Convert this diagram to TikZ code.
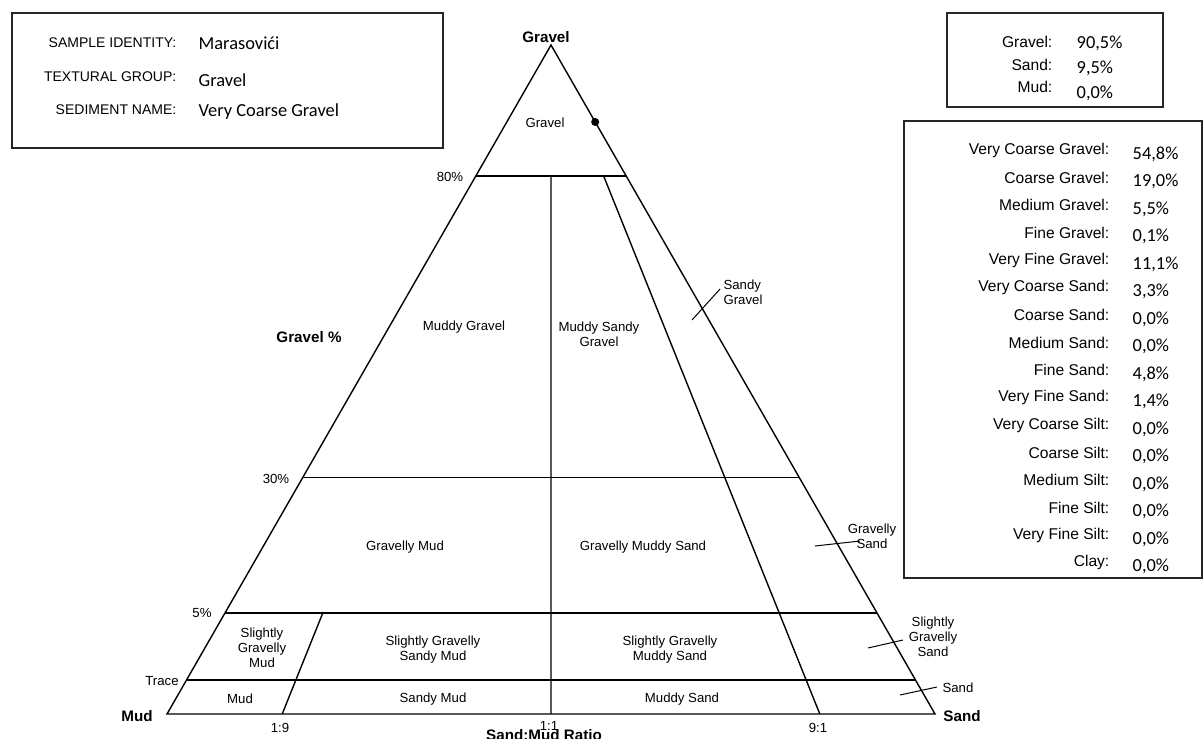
\documentclass[tikz,border=0pt]{standalone}
\usepackage{fontspec}
\setmainfont{Liberation Sans}
\newfontfamily\valfont{Carlito}
\usetikzlibrary{calc}

\tikzstyle{region}=[
    font=\fontsize{6.6}{7.5}\selectfont,
    align=center,
    inner sep=0pt
]
\tikzstyle{corner}=[
    font=\fontsize{7.6}{9}\selectfont\bfseries,
    inner sep=0pt
]
\tikzstyle{key}=[
    font=\fontsize{7.8}{9}\selectfont,
    anchor=east,
    inner sep=0pt
]
\tikzstyle{value}=[
    font=\fontsize{9.2}{10}\selectfont\valfont,
    anchor=west,
    inner sep=0pt
]
\tikzstyle{frame}=[
    line width=0.7pt,
    draw=black!85
]

\begin{document}
\begin{tikzpicture}[x=0.5pt,y=-0.5pt,line width=0.7pt]
	\useasboundingbox (0,0) rectangle (1203,738);
	% TRIANGLE CORNERS
	\coordinate (G) at (551,45);
	\coordinate (M) at (167,714);
	\coordinate (S) at (935,714);
	% ratio points on the base
	\coordinate (r19) at ($(M)!0.15!(S)$);
	\coordinate (r11) at ($(M)!0.5!(S)$);
	\coordinate (r91) at ($(M)!0.85!(S)$);
	% gravel levels on both sides
	\foreach \lvl/\t in {g80/0.804, g30/0.3535, g5/0.151, gtr/0.0508} {
		\coordinate (\lvl l) at ($(M)!\t!(G)$);
		\coordinate (\lvl r) at ($(S)!\t!(G)$);
	}
	\coordinate (r19t) at ($(r19)!0.151!(G)$);
	\coordinate (r11t) at ($(r11)!0.804!(G)$);
	\coordinate (r91t) at ($(r91)!0.804!(G)$);

	\draw (M) -- (G) -- (S) -- cycle;
	% Horizontal connections
	\draw (g80l) -- (g80r);
	\draw (g30l) -- (g30r);
	\draw (g5l) -- (g5r);
	\draw (gtrl) -- (gtrr);
	% Ratio lines
	\draw (r19) -- (r19t);
	\draw (r11) -- (r11t);
	\draw (r91) -- (r91t);

	% sample point
	\node (sample) [circle,fill,inner sep=0pt,minimum size=4pt] at ($(S)!0.885!(G)$) {};

	% CORNER LABELS
	\node (gravel) [corner] at (546,37) {Gravel};
	\node (mud) [corner] at (137,716) {Mud};
	\node (sand) [corner] at (962,716) {Sand};
	\node (gpct) [corner] at (309,337) {Gravel \%};
	\node (ratio) [corner] at (544,735) {Sand:Mud Ratio};

	% axis ticks
	\node (t80) [region] at (450,177) {80\%};
	\node (t30) [region] at (276,479) {30\%};
	\node (t5) [region] at (202,613) {5\%};
	\node (ttr) [region] at (162,681) {Trace};
	\node (t19) [region] at (280,728) {1:9};
	\node (t11) [region] at (549,726) {1:1};
	\node (t91) [region] at (818,728) {9:1};

	% REGION NAMES
	\node (n_g) [region] at (545,123) {Gravel};
	\node (n_mg) [region] at (464,327) {Muddy Gravel};
	\node (n_msg) [region] at (599,334) {Muddy Sandy\\Gravel};
	\node (n_gm) [region] at (405,547) {Gravelly Mud};
	\node (n_gms) [region] at (643,547) {Gravelly Muddy Sand};
	\node (n_sgm) [region] at (262,648) {Slightly\\Gravelly\\Mud};
	\node (n_sgsm) [region] at (433,650) {Slightly Gravelly\\Sandy Mud};
	\node (n_sgms) [region] at (670,650) {Slightly Gravelly\\Muddy Sand};
	\node (n_m) [region] at (240,699) {Mud};
	\node (n_sm) [region] at (433,699) {Sandy Mud};
	\node (n_ms) [region] at (682,699) {Muddy Sand};

	% outside names with leaders
	\node (n_sg) [region,align=left] at (743,292) {Sandy\\Gravel};
	\node (n_gs) [region] at (872,536) {Gravelly\\Sand};
	\node (n_sgs) [region] at (933,637) {Slightly\\Gravelly\\Sand};
	\node (n_s) [region] at (958,688) {Sand};
	\coordinate (l_sg) at (692,320);
	\coordinate (l_sg2) at (720,289);
	\coordinate (l_gs) at (815,546);
	\coordinate (l_gs2) at (860,541);
	\coordinate (l_sgs) at (868,648);
	\coordinate (l_sgs2) at (903,640);
	\coordinate (l_s) at (900,695);
	\coordinate (l_s2) at (937,687);
	\draw[line width=0.5pt] (l_sg) -- (l_sg2);
	\draw[line width=0.5pt] (l_gs) -- (l_gs2);
	\draw[line width=0.5pt] (l_sgs) -- (l_sgs2);
	\draw[line width=0.5pt] (l_s) -- (l_s2);

	% SAMPLE BOX
	\draw[frame] (12,13) rectangle (443,148);
	\node (k_id) [key,font=\fontsize{7}{8}\selectfont] at (177,43) {SAMPLE IDENTITY:};
	\node (k_tg) [key,font=\fontsize{7}{8}\selectfont] at (177,77) {TEXTURAL GROUP:};
	\node (k_sn) [key,font=\fontsize{7}{8}\selectfont] at (177,110) {SEDIMENT NAME:};
	\node (v_id) [value] at (198,43) {Marasovići};
	\node (v_tg) [value] at (198,80) {Gravel};
	\node (v_sn) [value] at (198,112) {Very Coarse Gravel};

	% TOTALS BOX
	\draw[frame] (947,13) rectangle (1163,107);
	\foreach \k/\v [count=\i from 0] in {Gravel/{90,5\%}, Sand/{9,5\%}, Mud/{0,0\%}} {
		\node (k_t\i) [key] at (1053,{42+22.5*\i}) {\k:};
		\node (v_t\i) [value] at (1076,{43+25*\i}) {\v};
	}

	% FRACTIONS BOX
	\draw[frame] (904,121) rectangle (1202,578);
	\foreach \k/\v [count=\i from 0] in {
		Very Coarse Gravel/{54,8\%}, Coarse Gravel/{19,0\%}, Medium Gravel/{5,5\%},
		Fine Gravel/{0,1\%}, Very Fine Gravel/{11,1\%}, Very Coarse Sand/{3,3\%},
		Coarse Sand/{0,0\%}, Medium Sand/{0,0\%}, Fine Sand/{4,8\%},
		Very Fine Sand/{1,4\%}, Very Coarse Silt/{0,0\%}, Coarse Silt/{0,0\%},
		Medium Silt/{0,0\%}, Fine Silt/{0,0\%}, Very Fine Silt/{0,0\%}, Clay/{0,0\%}} {
		\node (k_f\i) [key] at (1110,{150+27.5*\i}) {\k:};
		\node (v_f\i) [value] at (1132,{154+27.5*\i}) {\v};
	}
\end{tikzpicture}
\end{document}
